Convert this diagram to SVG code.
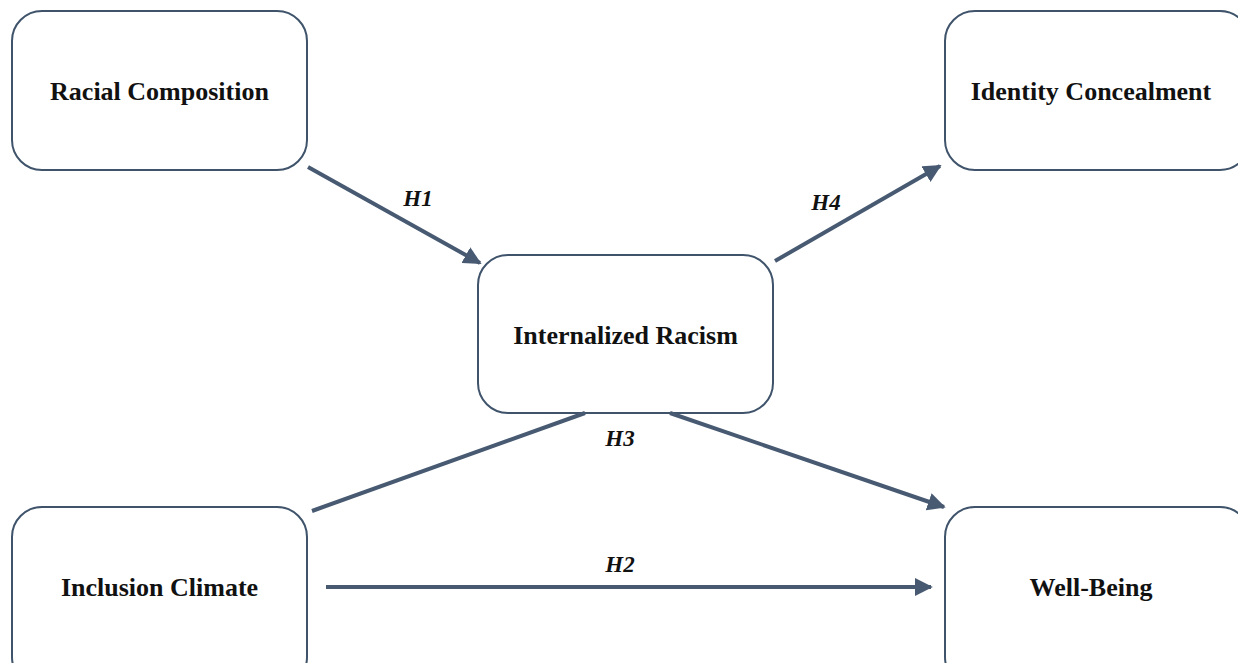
<svg xmlns="http://www.w3.org/2000/svg" width="1238" height="663" viewBox="0 0 1238 663">
<style>
.box{fill:#fff;stroke:#3f536b;stroke-width:2}
.lbl{font-family:"Liberation Serif","Times New Roman","DejaVu Serif",serif;font-weight:bold;font-size:26px;fill:#111;text-anchor:middle}
.h{font-family:"Liberation Serif","Times New Roman","DejaVu Serif",serif;font-weight:bold;font-style:italic;font-size:23px;fill:#111;text-anchor:middle}
.c{stroke:#475a72;stroke-width:4;fill:none}
</style>
<defs>
<marker id="ah" viewBox="0 0 10 10" refX="9" refY="5" markerWidth="4.5" markerHeight="4.5" orient="auto" markerUnits="strokeWidth">
<path d="M0,0 L10,5 L0,10 z" fill="#475a72"/>
</marker>
</defs>
<rect width="1238" height="663" fill="#fff"/>
<g id="racial-composition"><rect class="box" x="12" y="11" width="295" height="159" rx="30"/><text class="lbl" x="159.5" y="100">Racial Composition</text></g>
<g id="identity-concealment"><rect class="box" x="945" y="11" width="305" height="159" rx="30"/><text class="lbl" x="1091" y="100">Identity Concealment</text></g>
<g id="internalized-racism"><rect class="box" x="478" y="255" width="295" height="158" rx="30"/><text class="lbl" x="625.5" y="344">Internalized Racism</text></g>
<g id="inclusion-climate"><rect class="box" x="12" y="507" width="295" height="180" rx="30"/><text class="lbl" x="159.5" y="596">Inclusion Climate</text></g>
<g id="well-being"><rect class="box" x="945" y="507" width="305" height="180" rx="30"/><text class="lbl" x="1091" y="596">Well-Being</text></g>
<g id="connectors">
<line class="c" x1="308" y1="167" x2="480" y2="263" marker-end="url(#ah)"/>
<line class="c" x1="775" y1="261" x2="940" y2="166" marker-end="url(#ah)"/>
<line class="c" x1="312" y1="511" x2="585" y2="413"/>
<line class="c" x1="670" y1="413" x2="944" y2="507" marker-end="url(#ah)"/>
<line class="c" x1="326" y1="587" x2="931" y2="587" marker-end="url(#ah)"/>
<text class="h" x="418" y="206">H1</text>
<text class="h" x="826" y="210">H4</text>
<text class="h" x="620" y="446">H3</text>
<text class="h" x="620" y="572">H2</text>
</g>
</svg>
